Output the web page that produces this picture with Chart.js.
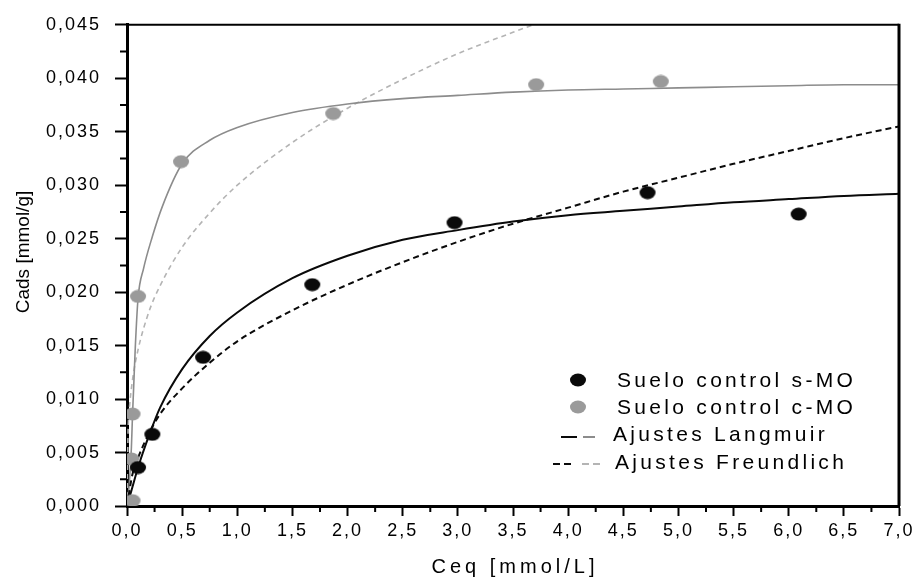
<!DOCTYPE html>
<html>
<head>
<meta charset="utf-8">
<script src="https://cdn.jsdelivr.net/npm/chart.js@4/dist/chart.umd.min.js"></script>
<style>
    html, body { margin: 0; padding: 0; background: #fff; }
    canvas { display: block; }
</style>
</head>
<body>
<canvas id="isothermChart" width="920" height="581"></canvas>
<script>
// Measured points (Ceq in mmol/L, Cads in mmol/g)
const ceqSinMO  = [0.10, 0.23, 0.69, 1.68, 2.97, 4.72, 6.09];
const cadsSinMO = [0.0036, 0.0067, 0.0139, 0.0207, 0.0265, 0.0293, 0.0273];
const ceqConMO  = [0.05, 0.04, 0.05, 0.10, 0.49, 1.87, 3.71, 4.84];
const cadsConMO = [0.0005, 0.0044, 0.0086, 0.0196, 0.0322, 0.0367, 0.0394, 0.0397];

// Fitted curves
const fitXSinMO   = [0, 0.05, 0.1, 0.2, 0.3, 0.5, 0.75, 1, 1.5, 2, 2.5, 3, 3.5, 4, 4.5, 5, 5.5, 6, 6.5, 7];
const langSinMO   = [0, 0.0018, 0.0036, 0.0066, 0.0092, 0.0128, 0.0159, 0.0181, 0.0213, 0.0234, 0.0249, 0.0258, 0.0266, 0.0272, 0.0276, 0.0280, 0.0284, 0.0287, 0.0290, 0.0292];
const freuSinMO   = [0, 0.0030, 0.0045, 0.0068, 0.0086, 0.0110, 0.0134, 0.0154, 0.0183, 0.0207, 0.0228, 0.0247, 0.0264, 0.0279, 0.0294, 0.0307, 0.0320, 0.0332, 0.0344, 0.0355];

const langXConMO  = [0, 0.02, 0.04, 0.05, 0.06, 0.075, 0.1, 0.15, 0.23, 0.32, 0.5, 0.75, 1, 1.5, 2, 2.5, 3, 3.5, 4, 4.5, 5, 5.5, 6, 6.5, 7];
const langConMO   = [0, 0.0020, 0.0055, 0.0085, 0.0110, 0.0148, 0.0194, 0.0222, 0.0252, 0.0280, 0.0320, 0.0342, 0.0354, 0.0368, 0.0376, 0.0381, 0.0384, 0.0387, 0.0389, 0.0390, 0.0391, 0.0392, 0.0393, 0.0394, 0.0394];
const freuXConMO  = [0, 0.01, 0.02, 0.05, 0.1, 0.2, 0.3, 0.5, 0.75, 1, 1.5, 2, 2.5, 3, 3.5, 4];
const freuConMO   = [0, 0.0071, 0.0089, 0.0118, 0.0146, 0.0182, 0.0206, 0.0242, 0.0274, 0.0300, 0.0340, 0.0372, 0.0399, 0.0423, 0.0443, 0.0462];

const xTickStep = 0.5;
const yTickStep = 0.005;

const legendLabels = ["Suelo control s-MO", "Suelo control c-MO", "Ajustes Langmuir", "Ajustes Freundlich"];

const BLACK = "#0a0a0a";
const GREY_DOT = "#9a9a9a";
const GREY_LINE = "#8c8c8c";
const GREY_DASH = "#b4b4b4";
const FONT = "'Liberation Sans', Arial, sans-serif";

function toXY(xs, ys){
    return xs.map((x, i) => ({ x: x, y: ys[i] }));
}

// slightly flattened dots like in the scan
function dotImage(color){
    const c = document.createElement("canvas");
    c.width = 18; c.height = 14;
    const g = c.getContext("2d");
    g.fillStyle = color;
    g.beginPath();
    g.ellipse(9, 7, 8, 6.5, 0, 0, Math.PI * 2);
    g.fill();
    return c;
}
const blackDot = dotImage(BLACK);
const greyDot = dotImage(GREY_DOT);

const comma = (v, d) => v.toFixed(d).replace(".", ",");

const extrasPlugin = {
    id: "extras",
    beforeLayout(chart){
        chart.ctx.letterSpacing = "2px";
    },
    beforeDraw(chart){
        chart.ctx.letterSpacing = "2px";
    },
    afterDraw(chart){
        const ctx = chart.ctx;
        const area = chart.chartArea;
        const xs = chart.scales.x;
        const ys = chart.scales.y;
        ctx.save();

        // minor ticks
        ctx.strokeStyle = "#000";
        ctx.lineWidth = 2;
        ctx.beginPath();
        for(let v = 0.25; v < 7; v += 0.5){
            const px = xs.getPixelForValue(v);
            ctx.moveTo(px, area.bottom);
            ctx.lineTo(px, area.bottom + 6);
        }
        for(let v = 0.0025; v < 0.045; v += 0.005){
            const py = ys.getPixelForValue(v);
            ctx.moveTo(area.left, py);
            ctx.lineTo(area.left - 7, py);
        }
        ctx.stroke();

        // top and right frame
        ctx.lineWidth = 2;
        ctx.beginPath();
        ctx.moveTo(area.left, area.top);
        ctx.lineTo(area.right, area.top);
        ctx.stroke();
        ctx.lineWidth = 3;
        ctx.beginPath();
        ctx.moveTo(area.right, area.top - 1);
        ctx.lineTo(area.right, area.bottom);
        ctx.stroke();

        // axis titles
        ctx.fillStyle = "#000";
        ctx.textAlign = "center";
        ctx.textBaseline = "alphabetic";
        ctx.letterSpacing = "4px";
        ctx.font = "20px " + FONT;
        ctx.fillText("Ceq [mmol/L]", (area.left + area.right) / 2 + 2, 573);

        ctx.letterSpacing = "0px";
        ctx.font = "19px " + FONT;
        ctx.save();
        ctx.translate(29, 252);
        ctx.rotate(-Math.PI / 2);
        ctx.fillText("Cads [mmol/g]", 0, 0);
        ctx.restore();

        // legend
        ctx.drawImage(blackDot, 578 - 9, 380 - 7);
        ctx.drawImage(greyDot, 578 - 9, 407 - 7);

        ctx.lineWidth = 2;
        ctx.setLineDash([]);
        ctx.strokeStyle = BLACK;
        ctx.beginPath(); ctx.moveTo(561, 437); ctx.lineTo(577, 437); ctx.stroke();
        ctx.strokeStyle = GREY_LINE;
        ctx.beginPath(); ctx.moveTo(583, 437); ctx.lineTo(595, 437); ctx.stroke();

        ctx.setLineDash([7, 4]);
        ctx.strokeStyle = BLACK;
        ctx.beginPath(); ctx.moveTo(553, 464); ctx.lineTo(572, 464); ctx.stroke();
        ctx.strokeStyle = GREY_DASH;
        ctx.beginPath(); ctx.moveTo(582, 464); ctx.lineTo(601, 464); ctx.stroke();
        ctx.setLineDash([]);

        ctx.textAlign = "left";
        ctx.font = "21px " + FONT;
        ctx.letterSpacing = "3.3px";
        ctx.fillText(legendLabels[0], 617, 387);
        ctx.fillText(legendLabels[1], 617, 414);
        ctx.fillText(legendLabels[2], 613, 441);
        ctx.fillText(legendLabels[3], 615, 469);

        ctx.restore();
        ctx.letterSpacing = "2px";
    }
};

const ctx = document.getElementById("isothermChart").getContext("2d");

const isothermChart = new Chart(ctx, {
    type: "scatter",
    data: {
        datasets: [
            {
                label: legendLabels[0],
                data: toXY(ceqSinMO, cadsSinMO),
                pointStyle: blackDot,
                pointRadius: 7,
                order: 0
            },
            {
                label: legendLabels[1],
                data: toXY(ceqConMO, cadsConMO),
                pointStyle: greyDot,
                pointRadius: 7,
                order: 1
            },
            {
                type: "line",
                label: "Langmuir s-MO",
                data: toXY(fitXSinMO, langSinMO),
                borderColor: BLACK,
                borderWidth: 2,
                pointRadius: 0,
                cubicInterpolationMode: "monotone",
                order: 2
            },
            {
                type: "line",
                label: "Freundlich s-MO",
                data: toXY(fitXSinMO, freuSinMO),
                borderColor: BLACK,
                borderWidth: 2,
                borderDash: [6, 4],
                pointRadius: 0,
                cubicInterpolationMode: "monotone",
                order: 3
            },
            {
                type: "line",
                label: "Langmuir c-MO",
                data: toXY(langXConMO, langConMO),
                borderColor: GREY_LINE,
                borderWidth: 1.6,
                pointRadius: 0,
                cubicInterpolationMode: "monotone",
                order: 4
            },
            {
                type: "line",
                label: "Freundlich c-MO",
                data: toXY(freuXConMO, freuConMO),
                borderColor: GREY_DASH,
                borderWidth: 1.6,
                borderDash: [5, 4],
                pointRadius: 0,
                cubicInterpolationMode: "monotone",
                order: 5
            }
        ]
    },
    options: {
        responsive: false,
        animation: false,
        events: [],
        layout: {
            padding: { top: 15, right: 21, left: 0, bottom: 0 }
        },
        plugins: {
            legend: { display: false },
            tooltip: { enabled: false }
        },
        scales: {
            x: {
                type: "linear",
                min: 0,
                max: 7,
                afterFit: (scale) => { scale.height = 75; },
                border: { color: "#000", width: 3 },
                grid: {
                    drawOnChartArea: false,
                    drawTicks: true,
                    tickLength: 10,
                    tickWidth: 2,
                    tickColor: "#000"
                },
                ticks: {
                    stepSize: xTickStep,
                    padding: 4,
                    color: "#000",
                    font: { family: FONT, size: 18 },
                    maxRotation: 0,
                    callback: (v) => comma(v, 1)
                }
            },
            y: {
                type: "linear",
                min: 0,
                max: 0.045,
                afterFit: (scale) => { scale.width = 127; },
                border: { color: "#000", width: 3 },
                grid: {
                    drawOnChartArea: false,
                    drawTicks: true,
                    tickLength: 12,
                    tickWidth: 2,
                    tickColor: "#000"
                },
                ticks: {
                    stepSize: yTickStep,
                    padding: 14,
                    color: "#000",
                    font: { family: FONT, size: 18 },
                    callback: (v) => comma(v, 3)
                }
            }
        }
    },
    plugins: [extrasPlugin]
});
</script>
</body>
</html>
